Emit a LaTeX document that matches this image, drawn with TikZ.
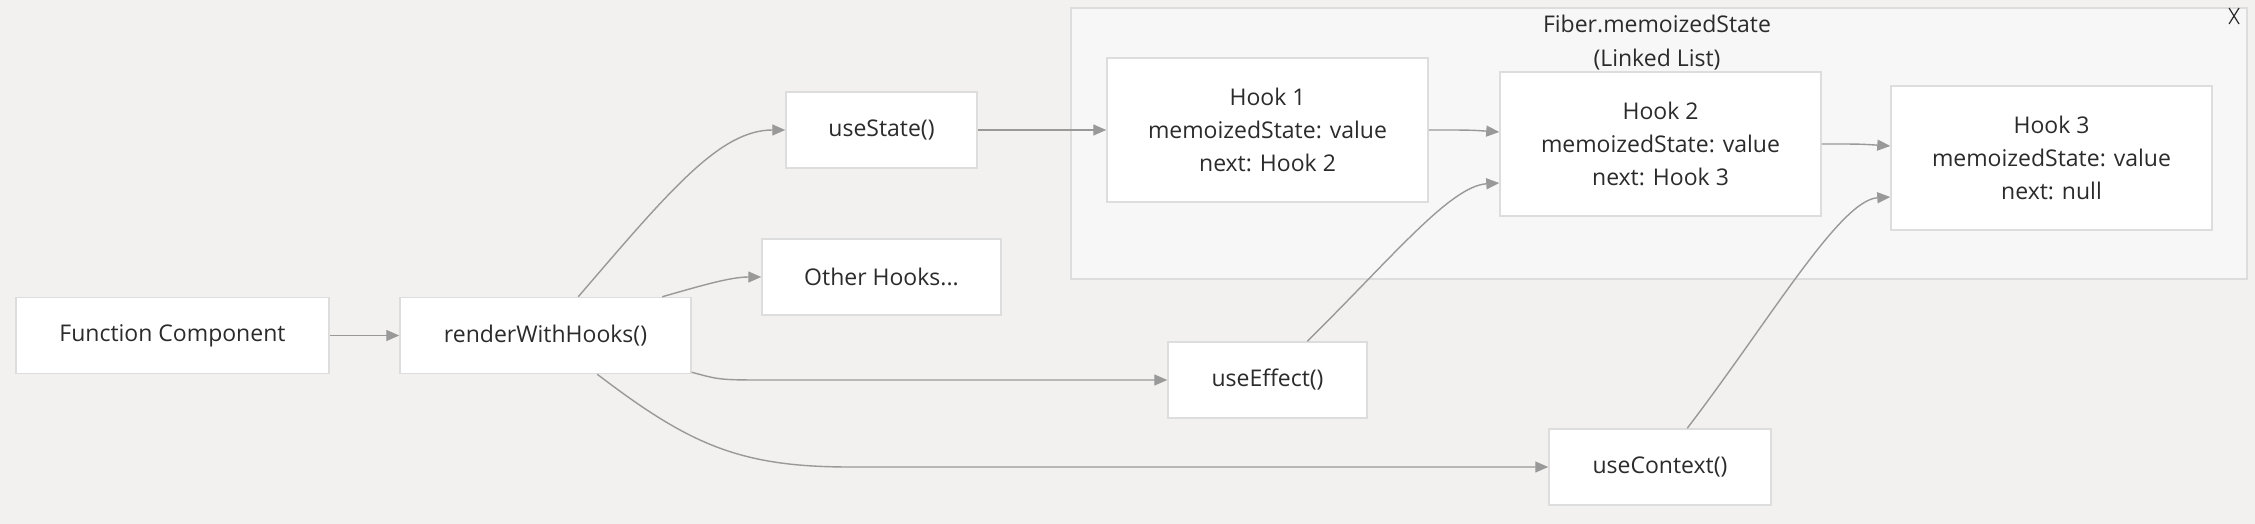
\documentclass[tikz,border=0pt]{standalone}
\usepackage{fontspec}
\setmainfont{Open Sans}
\usetikzlibrary{arrows.meta}
\definecolor{bgc}{HTML}{F2F1EF}
\definecolor{clfill}{HTML}{F7F7F7}
\definecolor{bord}{HTML}{DDDDDD}
\definecolor{edgec}{HTML}{999999}
\definecolor{txt}{HTML}{2B2B2B}
\begin{document}
\begin{tikzpicture}[x=1pt,y=-1pt,
  box/.style={draw=bord,line width=1.5pt,fill=white,text=txt,font=\fontsize{23}{33}\selectfont,align=center,inner sep=0pt,minimum height=76pt},
  hook/.style={box,minimum width=321pt,minimum height=144pt},
  conn/.style={draw=edgec,line width=1.4pt,-{Triangle[length=13pt,width=11pt]}}]
\useasboundingbox[fill=bgc] (0,0) rectangle (2255,524);
% cluster
\draw[draw=bord,fill=clfill,line width=1.5pt] (1071,8) rectangle (2247,279);
\node[text=txt,font=\fontsize{23}{34}\selectfont,align=center] (cltitle) at (1657,43) {Fiber.memoizedState\\(Linked List)};
\draw[txt,line width=1.2pt] (2229,8) -- (2239,24) (2239,8) -- (2229,24);
% nodes
\node[box,minimum width=313pt] (fc) at (172.5,335.5) {Function Component};
\node[box,minimum width=291pt] (rwh) at (545.5,335.5) {renderWithHooks()};
\node[box,minimum width=191pt] (us) at (881.5,130) {useState()};
\node[box,minimum width=239pt] (oh) at (881.5,277) {Other Hooks...};
\node[box,minimum width=199pt] (ue) at (1267.5,380) {useEffect()};
\node[box,minimum width=222pt] (uc) at (1660,467) {useContext()};
\node[hook] (h1) at (1267.5,130) {Hook 1\\memoizedState: value\\next: Hook 2};
\node[hook] (h2) at (1660.5,144) {Hook 2\\memoizedState: value\\next: Hook 3};
\node[hook] (h3) at (2051.5,158) {Hook 3\\memoizedState: value\\next: null};
% connectors
\draw[conn] (fc) -- (rwh);
\draw[conn] ([xshift=179pt]rwh.north west) .. controls (670,190) and (720,130) .. (us.west);
\draw[conn] ([xshift=263pt]rwh.north west) .. controls (700,286) and (730,277) .. (oh.west);
\draw[conn] ([yshift=2pt]rwh.south east) .. controls (720,380) .. (770,380) -- (ue.west);
\draw[conn] ([xshift=198pt]rwh.south west) .. controls (690,445) and (740,467) .. (850,467) -- (uc.west);
\draw[conn] (us) -- (h1);
\draw[conn] ([xshift=140pt]ue.north west) .. controls (1390,260) and (1450,186) .. ([yshift=-39pt]h2.west);
\draw[conn] ([xshift=139pt]uc.north west) .. controls (1770,320) and (1840,200) .. ([yshift=-39pt]h3.west);
\draw[conn] (h1.east) .. controls (1470,130) .. ([yshift=12pt]h2.west);
\draw[conn] (h2.east) .. controls (1860,144) .. ([yshift=12pt]h3.west);
\end{tikzpicture}
\end{document}
